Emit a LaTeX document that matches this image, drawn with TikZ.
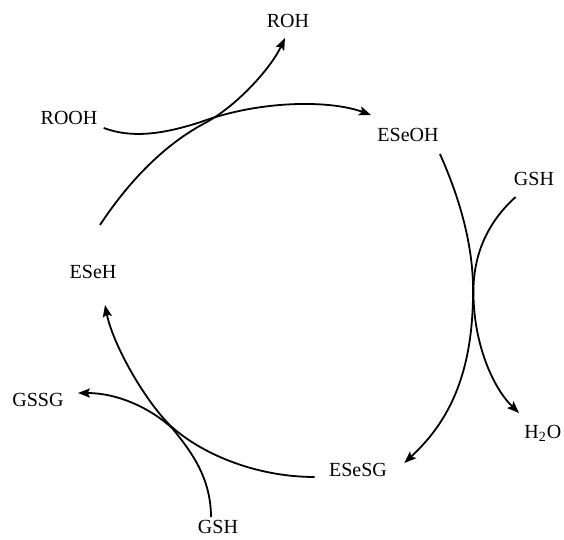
\documentclass[tikz,border=0pt]{standalone}
\usepackage{fontspec}
\setmainfont{Liberation Serif}
\usetikzlibrary{arrows.meta}

\begin{document}
\begin{tikzpicture}
[x=0.5pt,y=-0.5pt,
species/.style={inner sep=0pt,text height=6.6pt,text depth=0pt,
  font=\fontsize{10}{12}\selectfont},
flow/.style={draw,line width=0.9pt,
  -{Stealth[length=6pt,width=4.6pt,inset=1.2pt]}}]

\useasboundingbox (0,0) rectangle (564,540);

\node (roh)   [species] at (288,21)  {ROH};
\node (rooh)  [species] at (69,118)  {ROOH};
\node (eseoh) [species] at (408,135) {ESeOH};
\node (gshA)  [species] at (534,179) {GSH};
\node (eseh)  [species] at (93,272)  {ESeH};
\node (gssg)  [species] at (38,400)  {GSSG};
\node (water) [species,anchor=west] at (524,432) {H\textsubscript{2}O};
\node (esesg) [species] at (358,470) {ESeSG};
\node (gshB)  [species] at (218,527) {GSH};

% upper crossing
\draw [flow] (eseh.north) ++(7,-40)
    .. controls +(25,-38) and +(-45,24) .. ++(105,-102)
    .. controls +(32,-17) and +(-14,30) .. ([shift={(-3,10)}]roh.south);
\draw [flow] (rooh.east) ++(6,10)
    .. controls +(27,10) and +(-40,13) .. ++(97,-6)
    .. controls +(60,-22) and +(-41,-15) .. ([shift={(-6,-20)}]eseoh.west);

% right crossing
\draw [flow] (eseoh.south east) ++(1,12)
    .. controls +(21,47) and +(2,-50) .. ++(33,147)
    .. controls +(-2,80) and +(41,-38) .. ([shift={(17,0)}]esesg.north east);
\draw [flow] (gshA.south west) ++(2,11)
    .. controls +(-31,28) and +(-2,-40) .. ++(-42,103)
    .. controls +(2,50) and +(-24,-23) .. ([shift={(-5,-12)}]water.north west);

% lower crossing
\draw [flow] (esesg.west) ++(-14,7)
    .. controls +(-60,0) and +(30,28) .. ++(-145,-52)
    .. controls +(-25,-25) and +(8,40) .. ([shift={(12,26)}]eseh.south);
\draw [flow] (gshB.north) ++(-7,-3)
    .. controls +(0,-40) and +(18,22) .. ++(-39,-89)
    .. controls +(-22,-20) and +(40,0) .. ([shift={(14,-7)}]gssg.east);
\end{tikzpicture}
\end{document}
